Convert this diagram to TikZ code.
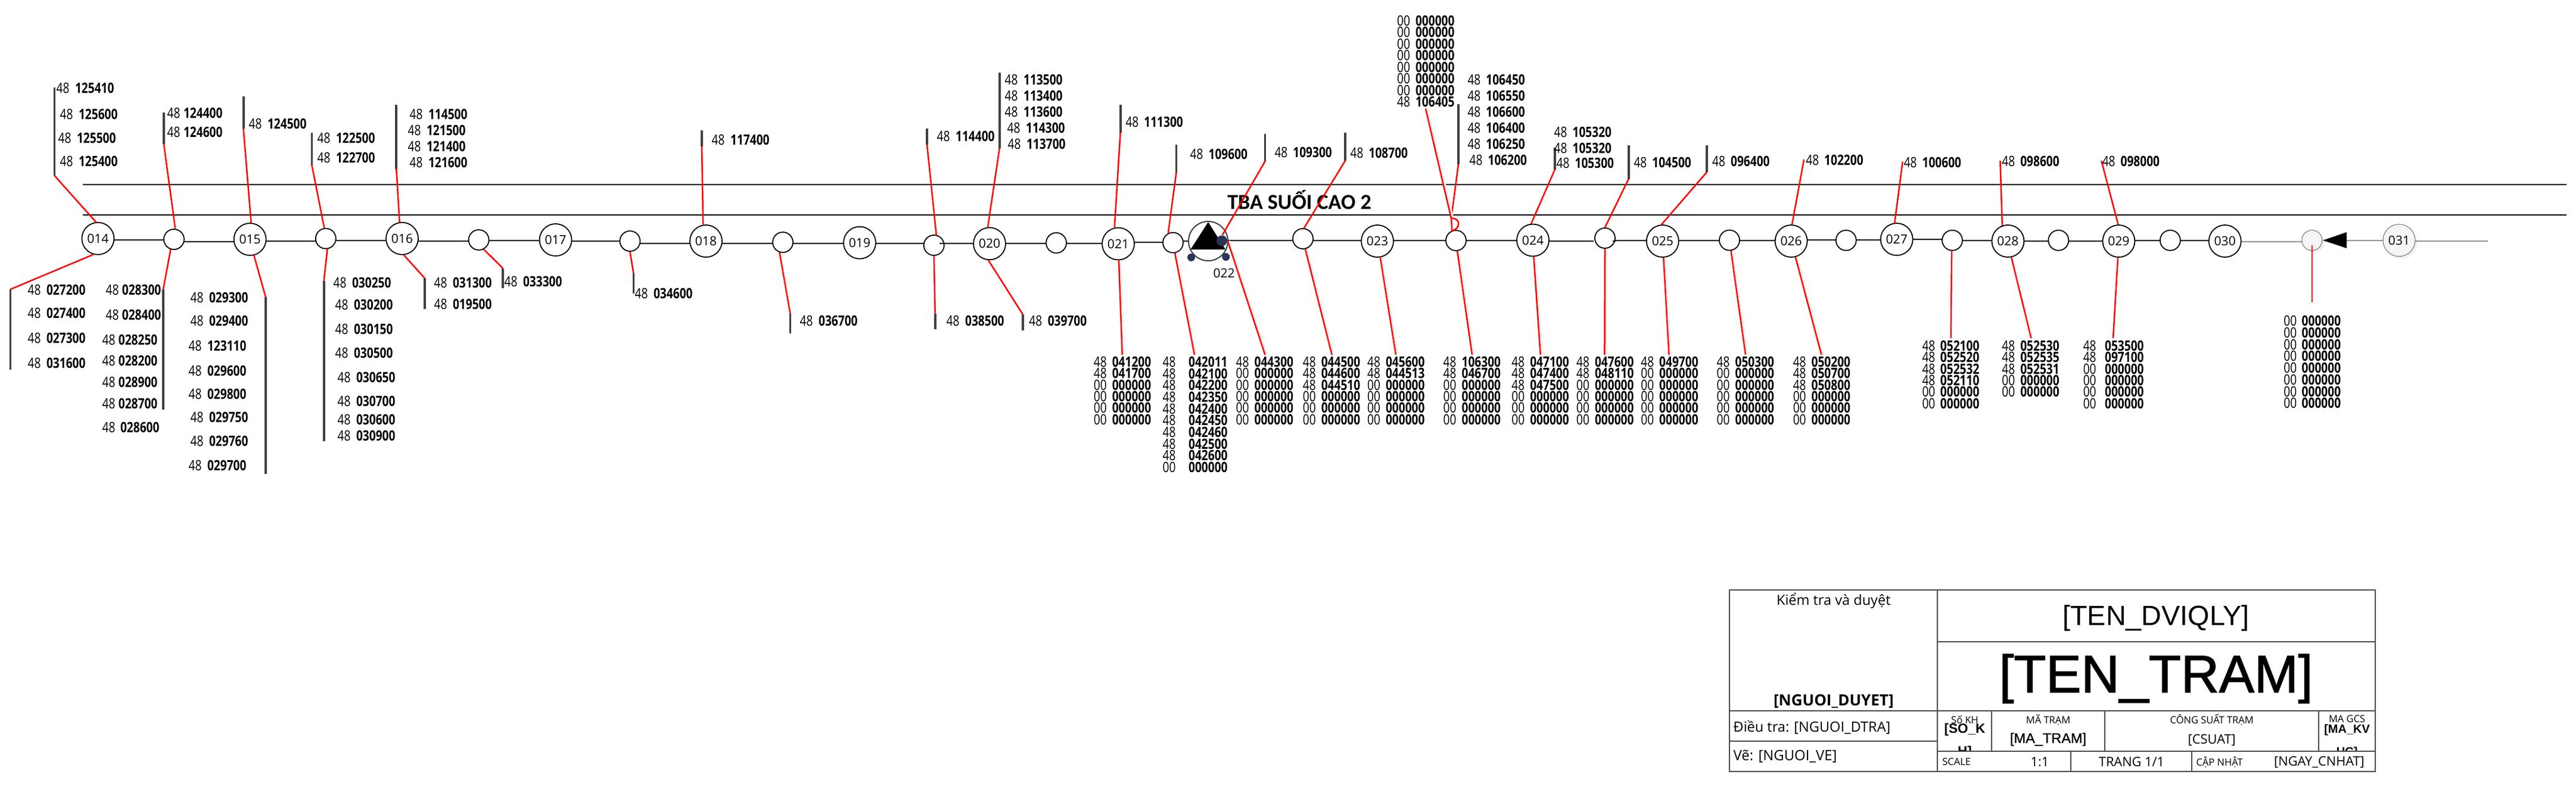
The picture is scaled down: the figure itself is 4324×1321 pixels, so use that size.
\documentclass[tikz,border=0pt]{standalone}
\usepackage{fontspec}
\usetikzlibrary{backgrounds,shadows}
\setmainfont{Open Sans}
\newfontfamily\rowfont[FakeStretch=0.8]{Open Sans}
\newfontfamily\arialfont{Liberation Sans}
\newfontfamily\arialheavy[FakeBold=1]{Liberation Sans}
\newfontfamily\arialmid[FakeBold=1.5]{Liberation Sans}
\newfontfamily\headfont{Carlito}
\definecolor{dotblue}{HTML}{2B3556}

\tikzset{
	bignode/.style={circle,draw=black,fill=white,line width=0.18mm,minimum size=5.4mm,inner sep=0pt,font=\fontsize{6}{7}\selectfont},
	smallnode/.style={circle,draw=black,fill=white,line width=0.18mm,minimum size=3.4mm,inner sep=0pt},
	fadenode/.style={circle,draw=black!55,fill=black!4,line width=0.1mm,inner sep=0pt,drop shadow={opacity=0.12,shadow xshift=0.4mm,shadow yshift=-0.4mm}},
	busline/.style={line width=0.2mm,black},
	fadeline/.style={line width=0.2mm,black!42},
	railline/.style={line width=0.2mm,black},
	barline/.style={line width=0.38mm,black!75},
	redline/.style={line width=0.25mm,red},
	lowred/.style={redline,preaction={draw=black!6,line width=0.3mm,transform canvas={xshift=0.3mm}}},
	rowlabel/.style={anchor=west,inner sep=0pt,font=\rowfont\fontsize{6.8}{8}\selectfont},
	blockline/.style={line width=0.2mm,black!70},
	blocktext/.style={inner sep=0pt,font=\fontsize{#1}{#1}\selectfont},
	arialtext/.style={inner sep=0pt,font=\arialfont\fontsize{#1}{#1}\selectfont},
}

%rows with own positions: x/y/prefix/code
\newcommand{\labelrows}[3][0.9mm]{%
	\foreach \rx/\ry/\rp/\rc [count=\ri] in {#3}
		\node[rowlabel] (#2-\ri) at (\rx,\ry) {\rp\hspace{#1}\textbf{\rc}};
}
%evenly spaced column: name, x, first y, pitch, prefix/code
\newcommand{\labelcol}[6][0.9mm]{%
	\foreach \rp/\rc [count=\ri] in {#6}
		\node[rowlabel] (#2-\ri) at (#3,{#4+#5*(\ri-1)}) {\rp\hspace{#1}\textbf{\rc}};
}

\begin{document}
\begin{tikzpicture}[x=0.1mm,y=-0.1mm]
	\useasboundingbox (0,0) rectangle (4324,1321);
	
	%rails
	\coordinate (railA) at (138.7,310);
	\coordinate (railB) at (4308,310);
	\coordinate (railC) at (138.7,361);
	\coordinate (railD) at (4308,361);
	\draw[railline] (railA)--(railB);
	\draw[railline] (railC)--(railD);
	\node[inner sep=0pt,font=\headfont\bfseries\fontsize{10.25}{11}\selectfont] (title) at (2181,336) {TBA SUỐI CAO 2};
	
	%numbered poles
	\foreach \nm/\cx/\cy in {014/164.4/400.7,015/419.6/402,016/675/400.7,017/932.6/403,018/1185/405,019/1443/407.7,020/1661/409.3,021/1877/409.5,023/2312/405,024/2573/403.5,025/2790.8/405,026/3006.6/405,027/3183.7/402,028/3370.4/405,029/3556.4/405,030/3734.7/405}
		\node[bignode] (n\nm) at (\cx,\cy) {\nm};
	
	%plain poles
	\foreach \nm/\cx/\cy in {14/292/402,15/546.8/400.7,16/803.6/403,17/1057.5/405,18/1314/407,19/1567.7/412,20/1773/408,21/1969/407.6,22/2187/401,23/2444/404,24/2694/400,25/2903/403.5,26/3098.7/403.7,27/3277/403.7,28/3455.3/403.7,29/3642.8/403.7}
		\node[smallnode] (p\nm) at (\cx,\cy) {};
	
	%last poles
	\node[fadenode,minimum size=3.4mm] (p30) at (3880.8,403.7) {};
	\node[fadenode,minimum size=5.4mm,font=\fontsize{6}{7}\selectfont] (n031) at (4027,403.7) {031};
	
	%station
	\node[circle,draw=black!75,fill=white,line width=0.2mm,minimum size=6.6mm,inner sep=0pt] (n022) at (2028,405) {};
	\fill[black] (2028,373)--(2057,419)--(1998.5,419)--cycle;
	\node[circle,fill=dotblue,minimum size=1.8mm,inner sep=0pt] (dotA) at (2051,404.4) {};
	\node[circle,fill=dotblue,minimum size=1.3mm,inner sep=0pt] (dotB) at (1999.5,432.4) {};
	\node[circle,fill=dotblue,minimum size=1.3mm,inner sep=0pt] (dotC) at (2057.7,431.5) {};
	\node[inner sep=0pt,font=\fontsize{6}{7}\selectfont] (lab022) at (2054.6,459) {022};
	
	%faded end of the bus
	\coordinate (tipA) at (3899,403.7);
	\coordinate (tipB) at (3939,390);
	\coordinate (tipC) at (3939,417);
	\coordinate (tipD) at (3939,403.7);
	\coordinate (tailA) at (4176.3,403.7);
	\coordinate (stubA) at (1577,409.3);
	\coordinate (stubB) at (2674.5,403.5);
	\coordinate (stubC) at (2706.6,404.5);
	
	%bus, level given per span
	\begin{scope}[on background layer]
		\foreach \from/\to/\ly in {n014/p14/403,p14/n015/405.8,n015/p15/404.9,p15/n016/404,n016/p16/404.7,p16/n017/404,n017/p17/404.7,p17/n018/409,n018/p18/409,p18/n019/409,n019/p19/409,p19/n020/409,n020/p20/409,p20/n021/408.5,n021/p21/406.7,p21/n022/405,dotA/p22/404.4,p22/n023/404.4,n023/p23/404.4,p23/n024/404.4,n025/p25/404.4,p25/n026/404.4,n026/p26/403.3,p26/n027/402.7,n027/p27/402.3,p27/n028/404,n028/p28/405.3,p28/n029/404.7,n029/p29/403.7,p29/n030/404}
			\draw[busline] (\from |- 0,\ly)--(\to |- 0,\ly);
		\draw[fadeline] (n030 |- 0,405.7)--(p30 |- 0,405.7);
		\draw[fadeline] (tipD |- 0,404)--(n031 |- 0,404);
		\draw[fadeline] (n031 |- 0,405)--(tailA |- 0,405);
		\draw[busline] (n024 |- 0,404.9)--(stubB |- 0,404.9);
		\draw[busline] (stubC |- 0,404.4)--(n025 |- 0,404.4);
	\end{scope}
	\draw[busline] (n020 -| p19.east)--(stubA);
	\draw[busline] (stubC)--(p24.east |- stubC);
	\fill[black] (tipA)--(tipB)--(tipC)--cycle;
	
	%bars: name/x/near end/far end
	\foreach \nm/\cx/\ya/\yb in {a14u/91.5/295/147,a14d/17.5/486/621,apAu/275/242/189.5,apAd/274/486/688,a15u/408.6/216/162,a15d/446/499.4/795.6,apBu/523.4/277/223,apBd/543.6/472/741,a16u/665.3/283.6/175.8,a16d/712.6/467/519,apCd/844/450.7/484,apDd/1063.4/459/492.7,a18u/1178/245.7/219,apEd/1326.5/526.7/560,apFu/1556/242.7/216,apFd/1569.7/526.7/553,a20u/1677.7/249/121.7,a20d/1716.7/528/555,a21u/1880.6/222.6/175.8,apHu/1974.5/289.6/243,a22u/2123.5/271/225,apIu/2258/270/223,apJu/2448/276/175.5,a24u/2610/284.6/247.8,apKu/2733.7/300.6/243.5,a25u/2865.3/288.8/243.5}{
		\coordinate (\nm) at (\cx,\ya);
		\coordinate (\nm t) at (\cx,\yb);
		\draw[barline] (\nm)--(\nm t);
	}
	
	%free ends
	\foreach \nm/\cx/\cy in {e21d/1883.7/596,eHd/2005/596,e22d/2123.5/596,eId/2235.7/596,e23d/2343/596,eJd/2471/596,e24d/2585.7/596,eKd/2693.4/596,e25d/2801.5/596,eLd/2930/596,e26d/3057.4/596,e26u/3028/268,e27u/3193.6/271.7,eNd/3274.7/568,e28u/3357.4/270,e28d/3409.4/568,e29u/3527.3/270,e29d/3547/568,eQd/3881/508,eQa/3881/412,eJl/2393/182.6,jct/2436/367}
		\coordinate (\nm) at (\cx,\cy);
	
	%red droppers
	\foreach \from/\to in {n014.97/a14u,n014.254/a14d,p14.83/apAu,p14.252/apAd,n015.86/a15u,n015.284/a15d,p15.98/apBu,p15.279/apBd,n016.99/a16u,n016.276/a16d,p16.298/apCd,p17.270/apDd,n018.100/a18u,p18.252/apEd,p19.77/apFu,p19.270/apFd,n020.96/a20u,n020.266/a20d,n021.103/a21u,p21.117/apHu,dotA.85/a22u,p22.84/apIu,n024.96/a24u,p24.90/apKu,n025.94/a25u,n026.87/e26u,n027.97/e27u,n028.110/e28u,n029.92/e29u,apJu/jct,p27.267/eNd,n028.282/e28d,n029.267/e29d}
		\draw[redline] (\from)--(\to);
	\foreach \from/\to in {n021.272/e21d,p21.280/eHd,dotA.east/e22d,p22.283/eId,n023.280/e23d,p23.277/eJd,n024.273/e24d,p24.270/eKd,n025.273/e25d,p25.278/eLd,n026.285/e26d,eJl/jct}
		\draw[lowred] (\from)--(\to);
	\draw[redline,line width=0.15mm] (eQa)--(eQd);
	\draw[redline] (jct) .. controls (2452,365) and (2452,385) .. (p23.112)--cycle;
	
	%upper labels
	\labelrows[0.95mm]{up14}{94/148/48/125410,100/192/48/125600,97/232/48/125500,100/271/48/125400}
	\labelrows[0.55mm]{upA}{280/189.5/48/124400,280/221.7/48/124600}
	\labelrows[0.95mm]{up15}{417/208/48/124500}
	\labelrows[0.95mm]{upB}{532/232/48/122500,532/265/48/122700}
	\labelrows[0.95mm]{up16}{687/192/48/114500,684/219/48/121500,684/246/48/121400,687/273/48/121600}
	\labelrows[0.95mm]{up18}{1194/235/48/117400}
	\labelrows[0.95mm]{upF}{1572/229/48/114400}
	\labelrows[0.95mm]{up20}{1686/134/48/113500,1686/161/48/113400,1686/188/48/113600,1690/215/48/114300,1691/242/48/113700}
	\labelrows{up21}{1888.8/205/48/111300}
	\labelrows{upH}{1997/259/48/109600}
	\labelrows{up22}{2138.8/256/48/109300}
	\labelrows{upI}{2266/257/48/108700}
	\labelcol{upJa}{2344.4}{34.5}{19.55}{00/000000,00/000000,00/000000,00/000000,00/000000,00/000000,00/000000,48/106405}
	\labelrows{upJb}{2462.8/134/48/106450,2462.8/161/48/106550,2462.8/187.8/48/106600,2462.8/215/48/106400,2462.8/242/48/106250,2466/269/48/106200}
	\labelrows{up24}{2608/221.8/48/105320,2608/248.7/48/105320,2612/273.7/48/105300}
	\labelrows{upK}{2741.8/272.8/48/104500}
	\labelrows{up25}{2873.5/270.9/48/096400}
	\labelrows{up26}{3030.6/269.3/48/102200}
	\labelrows{up27}{3195/272.7/48/100600}
	\labelrows{up28}{3359.7/271/48/098600}
	\labelrows{up29}{3528/271/48/098000}
	
	%lower labels
	\labelrows[0.95mm]{dn14}{46/487/48/027200,46/526/48/027400,46/568/48/027300,46/610/48/031600}
	\labelrows[0.53mm]{dnA}{177/487/48/028300,177/529/48/028400,171/571/48/028250,171/606/48/028200,171/642/48/028900,171/678/48/028700}
	\labelrows[0.85mm]{dnAb}{171/717.5/48/028600}
	\labelrows[0.95mm]{dn15}{319/500/48/029300,319/538.5/48/029400,316/581/48/123110,316/622.5/48/029600,316/661.5/48/029800,319/700.5/48/029750,319/740.5/48/029760,316/782/48/029700}
	\labelrows[0.95mm]{dnB}{559/474.7/48/030250,562/512/48/030200,562/553/48/030150,562/592.6/48/030500,566/633.5/48/030650,566/673.5/48/030700,566/704.7/48/030600,566/731.8/48/030900}
	\labelrows[0.95mm]{dnC}{728/474.7/48/031300,728/511/48/019500,846/472.7/48/033300}
	\labelrows[0.95mm]{dnD}{1065/493/48/034600}
	\labelrows[0.95mm]{dnE}{1342/538.7/48/036700}
	\labelrows[0.95mm]{dnF}{1588/538.7/48/038500}
	\labelrows[0.95mm]{dn20}{1726.7/538.7/48/039700}
	
	%bottom columns
	\labelcol{col21}{1835.2}{607.8}{19.4}{48/041200,48/041700,00/000000,00/000000,00/000000,00/000000}
	\labelcol[2.15mm]{colH}{1951}{607.8}{19.7}{48/042011,48/042100,48/042200,48/042350,48/042400,48/042450,48/042460,48/042500,48/042600,00/000000}
	\labelcol{col22}{2074}{607.8}{19.4}{48/044300,00/000000,00/000000,00/000000,00/000000,00/000000}
	\labelcol{colI}{2186.2}{607.8}{19.4}{48/044500,48/044600,48/044510,00/000000,00/000000,00/000000}
	\labelcol{col23}{2294.4}{607.8}{19.4}{48/045600,48/044513,00/000000,00/000000,00/000000,00/000000}
	\labelcol{colJ}{2422}{607.8}{19.4}{48/106300,48/046700,00/000000,00/000000,00/000000,00/000000}
	\labelcol{col24}{2536.7}{607.8}{19.4}{48/047100,48/047400,48/047500,00/000000,00/000000,00/000000}
	\labelcol{colK}{2645.4}{607.8}{19.4}{48/047600,48/048110,00/000000,00/000000,00/000000,00/000000}
	\labelcol{col25}{2753.6}{607.8}{19.4}{48/049700,00/000000,00/000000,00/000000,00/000000,00/000000}
	\labelcol{colL}{2881}{607.8}{19.4}{48/050300,00/000000,00/000000,00/000000,00/000000,00/000000}
	\labelcol{col26}{3009}{607.8}{19.4}{48/050200,48/050700,48/050800,00/000000,00/000000,00/000000}
	\labelcol[0.85mm]{colN}{3225.8}{580.7}{19.4}{48/052100,48/052520,48/052532,48/052110,00/000000,00/000000}
	\labelcol{col28}{3359.7}{580.7}{19.4}{48/052530,48/052535,48/052531,00/000000,00/000000}
	\labelcol[1.45mm]{col29}{3496}{580.7}{19.4}{48/053500,48/097100,00/000000,00/000000,00/000000,00/000000}
	\labelcol[0.85mm]{colQ}{3832.6}{539.3}{19.7}{00/000000,00/000000,00/000000,00/000000,00/000000,00/000000,00/000000,00/000000}
	
	%title block, clipped cells first
	\begin{scope}
		\clip (3252.4,1194) rectangle (3987,1261.7);
		\node[inner sep=0pt,font=\arialfont\bfseries\fontsize{6.4}{10.8}\selectfont,align=center] (soKh) at (3298,1245) {[SO\_K\\H]};
		\node[inner sep=0pt,font=\arialfont\bfseries\fontsize{5.7}{10.8}\selectfont,align=center] (maKv) at (3939.6,1245) {[MA\_KV\\UC]};
	\end{scope}
	\draw[blockline] (2903.3,991) rectangle (3987,1295.7);
	\draw[blockline] (3252.4,991)--(3252.4,1295.7);
	\draw[blockline] (3252.4,1078.3)--(3987,1078.3);
	\draw[blockline] (2903.3,1194)--(3987,1194);
	\draw[blockline] (2903.3,1245)--(3252.4,1245);
	\draw[blockline] (3252.4,1261.7)--(3987,1261.7);
	\draw[blockline] (3342.5,1194)--(3342.5,1261.7);
	\draw[blockline] (3533,1194)--(3533,1261.7);
	\draw[blockline] (3891.6,1194)--(3891.6,1261.7);
	\draw[blockline] (3476.4,1261.7)--(3476.4,1295.7);
	\draw[blockline] (3678.5,1261.7)--(3678.5,1295.7);
	
	%title block text
	\node[blocktext=6.7] (checkLab) at (3077.8,1009) {Kiểm tra và duyệt};
	\node[blocktext=7.4] (checkName) at (3077.8,1178) {\textbf{[NGUOI\_DUYET]}};
	\node[blocktext=6.7,anchor=west] (surveyLab) at (2909,1221.7) {Điều tra: [NGUOI\_DTRA]};
	\node[blocktext=6.8,anchor=west] (drawLab) at (2909,1271) {Vẽ: [NGUOI\_VE]};
	\node[arialtext=13.3] (unitName) at (3619,1038) {[TEN\_DVIQLY]};
	\node[inner sep=0pt,font=\arialmid\fontsize{25.2}{26}\selectfont] (stationName) at (3619,1140) {[TEN\_TRAM]};
	\node[blocktext=4.7] (soLab) at (3298,1209) {Số KH};
	\node[blocktext=4.7] (maLab) at (3438,1209) {MÃ TRẠM};
	\node[inner sep=0pt,font=\arialheavy\fontsize{6.7}{7}\selectfont] (maVal) at (3438,1242) {[MA\_TRAM]};
	\node[blocktext=4.7] (csLab) at (3712.7,1209) {CÔNG SUẤT TRẠM};
	\node[blocktext=6.2] (csVal) at (3712.7,1243) {[CSUAT]};
	\node[blocktext=4.7] (gcsLab) at (3939.6,1208) {MA GCS};
	\node[blocktext=4.7,anchor=west] (scaleLab) at (3259.6,1280) {SCALE};
	\node[blocktext=6.2] (scaleVal) at (3424,1280) {1:1};
	\node[blocktext=6.2] (pageVal) at (3578,1280) {TRANG 1/1};
	\node[blocktext=4.7,anchor=west] (dateLab) at (3685.8,1280) {CẬP NHẬT};
	\node[blocktext=6.2] (dateVal) at (3893,1280) {[NGAY\_CNHAT]};
\end{tikzpicture}
\end{document}
